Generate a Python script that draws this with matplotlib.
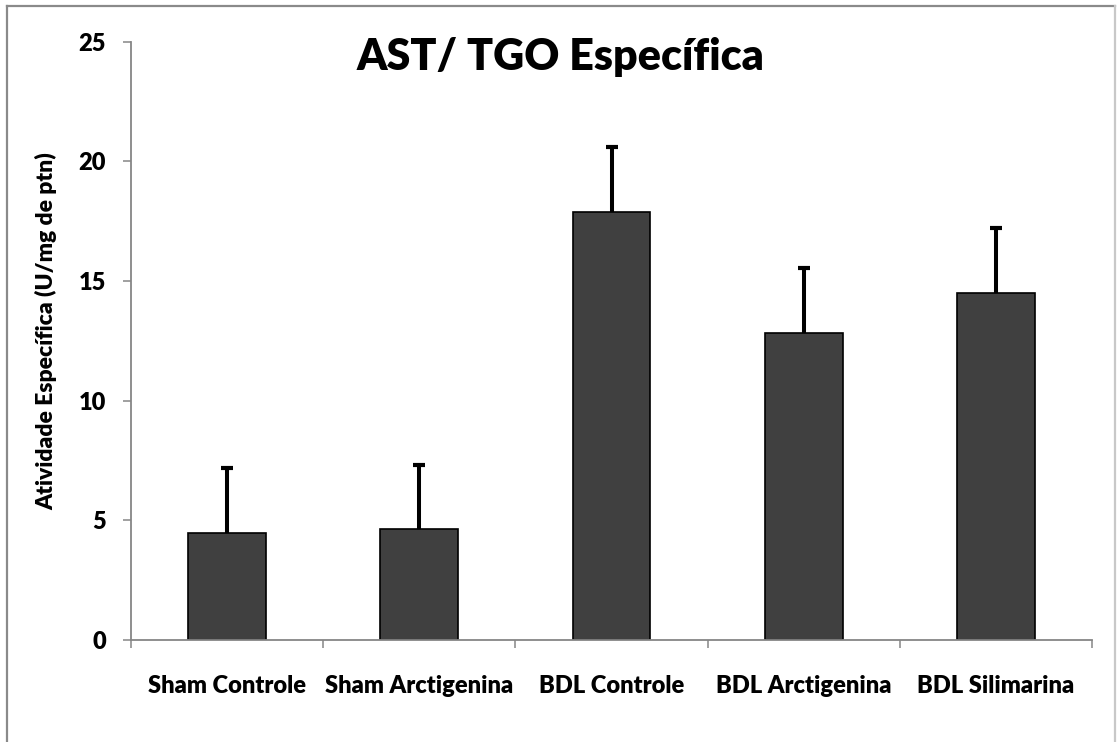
import numpy as np
import matplotlib
matplotlib.use("Agg")
import matplotlib.pyplot as plt
from matplotlib.lines import Line2D

# Atividade específica de AST/TGO por grupo
grupos = ["Sham Controle", "Sham Arctigenina", "BDL Controle", "BDL Arctigenina", "BDL Silimarina"]
media = [4.48, 4.63, 17.88, 12.84, 14.50]
erro = [2.72, 2.70, 2.71, 2.69, 2.70]

plt.rcParams['font.family'] = ['Lato', 'DejaVu Sans']

fig = plt.figure(figsize=(11.17, 7.42), dpi=100)
ax = fig.add_axes([131/1117, 102/742, 961/1117, 598.3/742])

x = np.arange(len(grupos))
ax.bar(x, media, width=0.405, color="#404040", edgecolor="black", linewidth=1.2, zorder=2)
eb = ax.errorbar(x, media, yerr=[np.zeros(len(media)), erro], fmt="none", ecolor="black",
                 elinewidth=2.9, capsize=4.3, capthick=3.0, zorder=1)
# só a barra de erro para cima
eb[1][0].set_visible(False)

ax.set_xlim(-0.5, len(grupos) - 0.5)
ax.set_ylim(0, 25)
ax.set_yticks([0, 5, 10, 15, 20, 25])

# rótulos no centro, marcas entre as categorias
ax.set_xticks(x)
ax.set_xticklabels(grupos, fontsize=17, fontweight="heavy")
ax.tick_params(axis="x", which="major", length=0, pad=25)
ax.set_xticks(np.arange(len(grupos) + 1) - 0.5, minor=True)
ax.tick_params(axis="x", which="minor", length=6, width=1.1, color="#868686")
ax.tick_params(axis="y", length=6, width=1.1, color="#868686", labelsize=17, pad=12)
for lab in ax.get_yticklabels():
    lab.set_fontweight("heavy")

for s in ["top", "right"]:
    ax.spines[s].set_visible(False)
for s in ["left", "bottom"]:
    ax.spines[s].set_color("#868686")
    ax.spines[s].set_linewidth(1.3)

ax.set_ylabel("Atividade Específica (U/mg de ptn)", fontsize=16.5, fontweight="heavy")
ax.yaxis.set_label_coords(-0.077, 0.516)

fig.text(560.5/1117, 1 - 57/742, "AST/ TGO Específica", fontsize=31, fontweight="heavy",
         ha="center", va="center")

# moldura do gráfico
W, H = 1117, 742
for xs, ys, c in [
        ([7/W, 7/W], [-0.01, 736/H], "#8a8a8a"),
        ([7/W, 1115/W], [736/H, 736/H], "#8a8a8a"),
        ([1115/W, 1115/W], [736/H, -0.01], "#c8c8c8")]:
    fig.add_artist(Line2D(xs, ys, color=c, linewidth=1.6, transform=fig.transFigure))

fig.savefig("out.png", dpi=100)
